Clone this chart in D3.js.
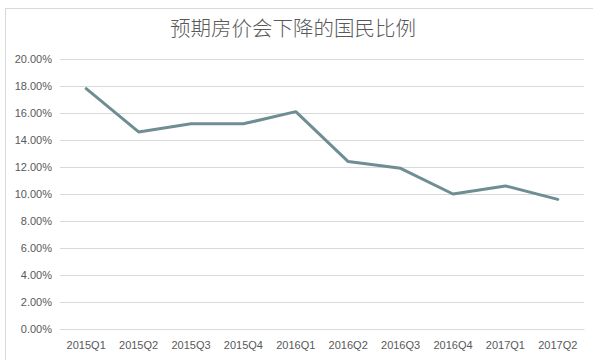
<!DOCTYPE html>
<html><head><meta charset="utf-8">
<script src="https://cdn.jsdelivr.net/npm/d3@7/dist/d3.min.js"></script>
<style>body{margin:0;background:#fff;}svg{display:block;}</style>
</head><body>
<svg id="c" width="593" height="360"></svg>
<script>
const title = "预期房价会下降的国民比例";
const categories = ["2015Q1","2015Q2","2015Q3","2015Q4","2016Q1","2016Q2","2016Q3","2016Q4","2017Q1","2017Q2"];
const values = [17.8, 14.6, 15.2, 15.2, 16.1, 12.4, 11.9, 10.0, 10.6, 9.6];
const yTicks = [0,2,4,6,8,10,12,14,16,18,20];

const svg = d3.select("#c");
const W = 593, H = 360;
const m = {left:60, right:9, top:59, bottom:31};
const x = d3.scaleBand().domain(categories).range([m.left, W - m.right]);
const y = d3.scaleLinear().domain([0,20]).range([H - m.bottom, m.top]);

svg.append("rect").attr("x",5.5).attr("y",8.5).attr("width",W).attr("height",H)
  .attr("fill","#fff").attr("stroke","#d9d9d9");

svg.append("text").attr("x",293).attr("y",36).attr("text-anchor","middle")
  .attr("font-family","'Noto Sans CJK SC', sans-serif").attr("font-weight",300)
  .attr("font-size",20.5).attr("fill","#595959").text(title);

const ya = svg.append("g").attr("transform",`translate(${m.left},0)`)
  .call(d3.axisLeft(y).tickValues(yTicks).tickSize(-(W - m.right - m.left)).tickPadding(8)
    .tickFormat(d => d.toFixed(2) + "%"));
ya.select(".domain").remove();
ya.selectAll(".tick line").attr("stroke","#d9d9d9");
ya.selectAll("text").attr("font-family","'Liberation Sans', Arial, sans-serif").attr("font-size",11).attr("fill","#595959");

const xa = svg.append("g").attr("transform",`translate(0,${H - m.bottom})`)
  .call(d3.axisBottom(x).tickSize(0).tickPadding(12));
xa.select(".domain").attr("stroke","#d9d9d9");
xa.selectAll("text").attr("font-family","'Liberation Sans', Arial, sans-serif").attr("font-size",11).attr("fill","#595959");

const line = d3.line().x((d,i) => x(categories[i]) + x.bandwidth()/2).y(d => y(d));
svg.append("path").datum(values).attr("d",line).attr("fill","none")
  .attr("stroke","#6f8e93").attr("stroke-width",3).attr("stroke-linejoin","round").attr("stroke-linecap","round");
</script>
</body></html>
